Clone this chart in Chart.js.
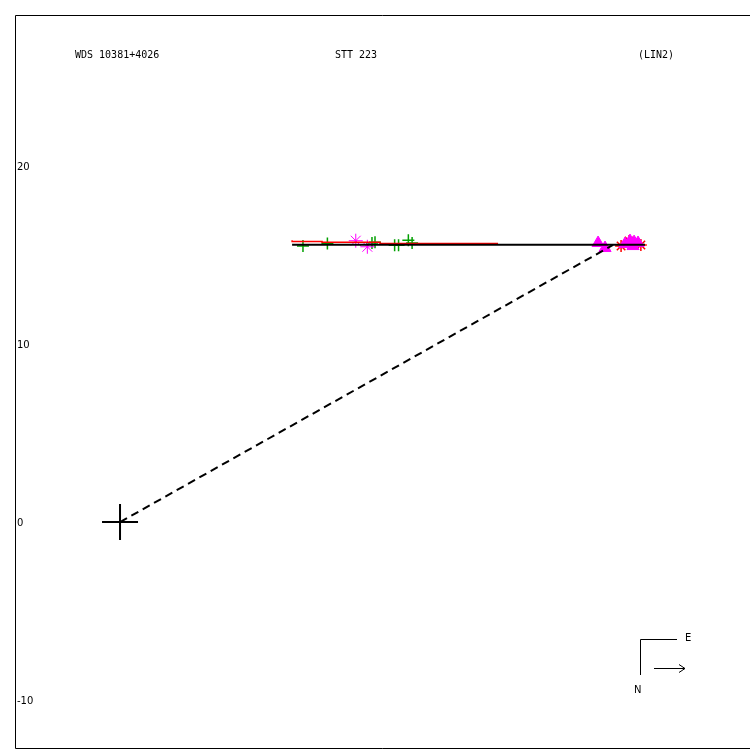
<!DOCTYPE html>
<html>
  <head>
    <title>WDS 10381+4026</title>
    <script src="https://cdn.jsdelivr.net/npm/chart.js"></script>
    <style>
      body { margin: 0; background: #fff; }
      canvas { display: block; }
    </style>
  </head>
  <body>
    <canvas id="orbitChart" width="750" height="750"></canvas>
    <script>
      // header texts (left, middle, right)
      var titleTexts = ['WDS 10381+4026', 'STT 223', '(LIN2)'];
      var yTicks = [-10, 0, 10, 20];

      // primary star at origin
      var primaryX = [0];
      var primaryY = [0];

      // linear fit line
      var fitX = [9.65, 29.44];
      var fitY = [15.55, 15.55];

      // dashed line from primary to fitted position
      var dashX = [0, 27.65];
      var dashY = [0, 15.54];

      // red step line
      var redX = [9.65, 11.33, 14.58, 17.95, 21.20];
      var redY = [15.80, 15.73, 15.69, 15.62, 15.62];

      // micrometer observations (green +)
      var greenX = [10.26, 11.63, 14.13, 14.30, 15.40, 15.62, 16.17, 16.38];
      var greenY = [15.48, 15.63, 15.65, 15.69, 15.52, 15.52, 15.80, 15.65];

      // magenta asterisks
      var starX = [13.22, 13.87];
      var starY = [15.78, 15.44];

      // magenta triangles
      var triX = [26.81, 27.20, 28.32, 28.60, 28.83, 29.05, 28.77];
      var triY = [15.65, 15.37, 15.59, 15.76, 15.70, 15.65, 15.48];

      // red stars
      var redStarX = [28.10, 28.55, 29.21];
      var redStarY = [15.48, 15.76, 15.54];

      function pts(xs, ys) {
        return xs.map(function(x, i) { return {x: x, y: ys[i]}; });
      }

      // frame, y labels, header texts and compass
      var decorPlugin = {
        id: 'decor',
        beforeDatasetsDraw: function(chart) {
          var ctx = chart.ctx, a = chart.chartArea;
          var yScale = chart.scales.y;
          ctx.save();
          ctx.strokeStyle = '#000';
          ctx.lineWidth = 1;
          ctx.beginPath();
          ctx.moveTo(a.right, a.top + 0.5);
          ctx.lineTo(a.left + 0.5, a.top + 0.5);
          ctx.lineTo(a.left + 0.5, a.bottom - 0.5);
          ctx.lineTo(a.right, a.bottom - 0.5);
          ctx.stroke();

          ctx.fillStyle = '#000';
          ctx.textBaseline = 'middle';
          ctx.textAlign = 'left';
          ctx.font = '10px "DejaVu Sans"';
          yTicks.forEach(function(v) {
            ctx.fillText(String(v), a.left + 2, yScale.getPixelForValue(v) + 1.5);
          });

          ctx.font = '10px "DejaVu Sans Mono"';
          ctx.fillText(titleTexts[0], 75, 55);
          ctx.fillText(titleTexts[1], 335, 55);
          ctx.fillText(titleTexts[2], 638, 55);

          // compass
          ctx.beginPath();
          ctx.moveTo(677, 639.5);
          ctx.lineTo(640.5, 639.5);
          ctx.lineTo(640.5, 675);
          ctx.moveTo(654, 668.5);
          ctx.lineTo(685, 668.5);
          ctx.moveTo(679, 664.5);
          ctx.lineTo(685, 668.5);
          ctx.lineTo(679, 672.5);
          ctx.stroke();
          ctx.font = '10px "DejaVu Sans"';
          ctx.fillText('E', 685, 638);
          ctx.fillText('N', 634, 690);
          ctx.restore();
        }
      };

      new Chart(document.getElementById('orbitChart').getContext('2d'), {
        type: 'scatter',
        data: {
          datasets: [
            {
              data: pts(fitX, fitY), showLine: true, pointRadius: 0,
              borderColor: '#000', borderWidth: 2, order: 0
            },
            {
              data: pts(dashX, dashY), showLine: true, pointRadius: 0,
              borderColor: '#000', borderWidth: 2, borderDash: [8, 5], order: 1
            },
            {
              data: pts(redX, redY), showLine: true, pointRadius: 0, stepped: 'after',
              borderColor: '#ff0000', borderWidth: 1.5, order: 2
            },
            {
              data: pts(triX, triY), pointStyle: 'triangle', pointRadius: 7,
              backgroundColor: '#ff00ff', borderColor: '#ff00ff', borderWidth: 1, order: 3
            },
            {
              data: pts(redStarX, redStarY), pointStyle: 'star', pointRadius: 6,
              borderColor: '#ff0000', borderWidth: 1.5, order: 4
            },
            {
              data: pts(starX, starY), pointStyle: 'star', pointRadius: 7,
              borderColor: '#ff00ff', borderWidth: 1, order: 3
            },
            {
              data: pts(greenX, greenY), pointStyle: 'cross', pointRadius: 6,
              borderColor: '#00a000', borderWidth: 1.5, order: 3
            },
            {
              data: pts(primaryX, primaryY), pointStyle: 'cross', pointRadius: 18,
              borderColor: '#000', borderWidth: 2, order: 1
            }
          ]
        },
        options: {
          responsive: false,
          animation: false,
          layout: { autoPadding: false, padding: { left: 15, top: 15, right: 0, bottom: 1 } },
          plugins: { legend: { display: false }, tooltip: { enabled: false } },
          scales: {
            x: { type: 'linear', display: false, min: -5.89, max: 35.33 },
            y: { type: 'linear', display: false, min: -12.73, max: 28.44 }
          }
        },
        plugins: [decorPlugin]
      });
    </script>
  </body>
</html>
